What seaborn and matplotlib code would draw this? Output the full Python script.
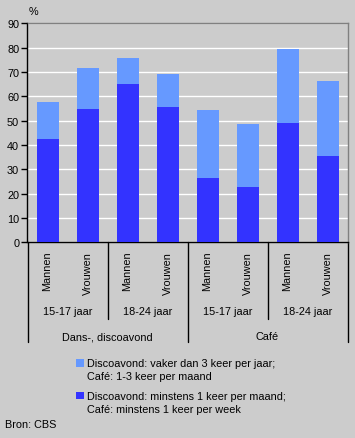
import matplotlib
matplotlib.use("Agg")
import pandas as pd
import seaborn as sns
from matplotlib import pyplot as plt
from matplotlib.patches import Patch, Rectangle
from matplotlib.legend_handler import HandlerPatch
from matplotlib.transforms import blended_transform_factory

# data
bars = ["D-15-M", "D-15-V", "D-18-M", "D-18-V", "C-15-M", "C-15-V", "C-18-M", "C-18-V"]
sex_labels = ["Mannen", "Vrouwen"] * 4
age_labels = ["15-17 jaar", "18-24 jaar", "15-17 jaar", "18-24 jaar"]
place_labels = ["Dans-, discoavond", "Café"]
minstens = [42.5, 54.8, 65.1, 55.6, 26.4, 22.7, 49.0, 35.5]
vaker = [15.2, 16.8, 10.7, 13.6, 28.0, 25.9, 30.5, 30.8]
yticks = list(range(0, 100, 10))

light = "#6699ff"
dark = "#3333ff"
bg = "#cccccc"

df = pd.DataFrame({"bar": bars, "minstens": minstens, "vaker": vaker})
df["totaal"] = df["minstens"] + df["vaker"]

sns.set_theme(style="white")
plt.rcParams["font.family"] = ["Liberation Sans", "DejaVu Sans"]
plt.rcParams["text.color"] = "black"
plt.rcParams["xtick.color"] = "black"
plt.rcParams["ytick.color"] = "black"
fs = 7.8


class TopSquare(HandlerPatch):
    # legend square next to the first line of a two-line label
    def create_artists(self, legend, orig_handle, xdescent, ydescent,
                       width, height, fontsize, trans):
        p = Rectangle((-xdescent, -ydescent + 0.62 * fontsize), width, height,
                      facecolor=orig_handle.get_facecolor(), edgecolor="none",
                      transform=trans)
        return [p]


fig = plt.figure(figsize=(3.55, 4.39), dpi=100, facecolor=bg)
ax = fig.add_axes([27.5 / 355, 1 - 243.3 / 439, 320 / 355, 219 / 439])
ax.set_facecolor(bg)

sns.barplot(data=df, x="bar", y="totaal", order=bars, color=light,
            width=0.55, saturation=1, linewidth=0, ax=ax, zorder=3)
sns.barplot(data=df, x="bar", y="minstens", order=bars, color=dark,
            width=0.55, saturation=1, linewidth=0, ax=ax, zorder=3)

ax.set_xlim(-0.5, len(bars) - 0.5)
ax.set_ylim(0, 90)
ax.set_yticks(yticks)
ax.set_yticklabels([str(t) for t in yticks], fontsize=fs, color="black")
ax.yaxis.grid(True, color="white", linewidth=1, zorder=0)
ax.set_axisbelow(True)
ax.tick_params(axis="y", direction="out", length=4, width=1, color="black", pad=2, left=True)
ax.set_xlabel("")
ax.set_ylabel("")

ax.set_xticks(range(len(bars)))
ax.set_xticklabels(sex_labels, rotation=90, fontsize=fs, va="top", ha="center", color="black")
ax.tick_params(axis="x", length=0, pad=6, bottom=False)

for side in ["top", "right"]:
    ax.spines[side].set_color("#808080")
    ax.spines[side].set_linewidth(1)
for side in ["left", "bottom"]:
    ax.spines[side].set_color("black")
    ax.spines[side].set_linewidth(1)

tr = blended_transform_factory(ax.transData, ax.transAxes)
px = 1 / 219  # one pixel in axes units (vertical)

# separators below the axis
for i, xs in enumerate([-0.5, 1.5, 3.5, 5.5, 7.5]):
    low = 100 if i in (0, 2, 4) else 77
    ax.plot([xs, xs], [0, -low * px], color="black", lw=1,
            transform=tr, clip_on=False)

for i, lab in enumerate(age_labels):
    ax.text(2 * i + 0.5, -69 * px, lab, transform=tr, ha="center", va="center",
            fontsize=fs)
for i, lab in enumerate(place_labels):
    ax.text(4 * i + 1.5, -94 * px, lab, transform=tr, ha="center", va="center",
            fontsize=fs)

ax.text(33 / 355, 1 - 12 / 439, "%", transform=fig.transFigure, ha="center",
        va="center", fontsize=fs)

handles = [Patch(facecolor=light, edgecolor="none"), Patch(facecolor=dark, edgecolor="none")]
labels = ["Discoavond: vaker dan 3 keer per jaar;\nCafé: 1-3 keer per maand",
          "Discoavond: minstens 1 keer per maand;\nCafé: minstens 1 keer per week"]
leg = fig.legend(handles, labels, loc="upper left", bbox_to_anchor=(76 / 355, 1 - 359 / 439),
                 frameon=False, fontsize=fs, handlelength=0.7, handleheight=0.7,
                 handletextpad=0.35, labelspacing=0.92, borderaxespad=0, borderpad=0,
                 handler_map={Patch: TopSquare()})
for t in leg.get_texts():
    t.set_linespacing(1.35)

fig.text(5 / 355, 1 - 425 / 439, "Bron: CBS", ha="left", va="center", fontsize=fs)

fig.savefig("out.png", dpi=100, facecolor=bg)
